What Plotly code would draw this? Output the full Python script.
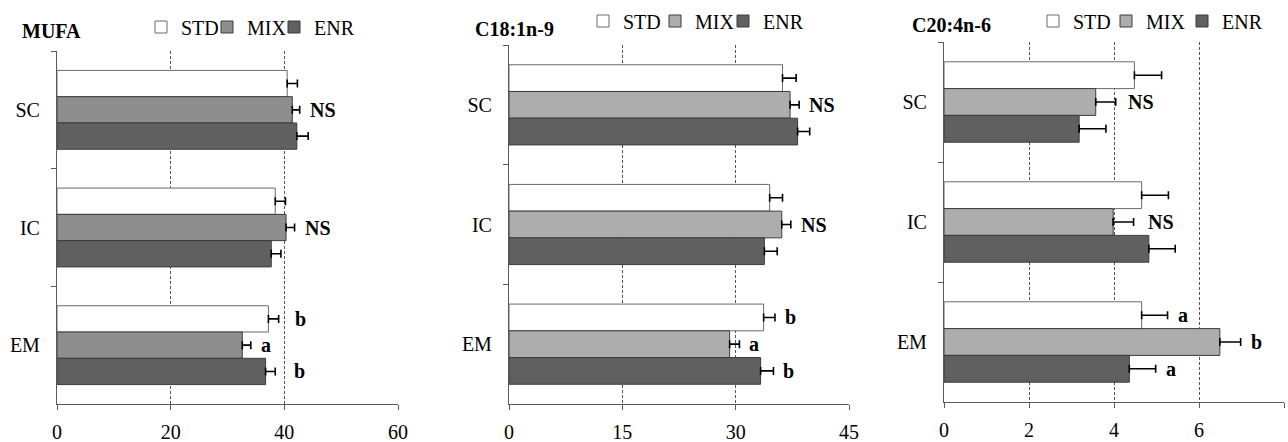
import plotly.graph_objects as go

# ---------------- data ----------------
categories = ["SC", "IC", "EM"]
series_names = ["STD", "MIX", "ENR"]
panel_titles = ["MUFA", "C18:1n-9", "C20:4n-6"]
x_ranges = [[0, 60], [0, 45], [0, 8]]
x_dticks = [20, 15, 2]

mufa_std = [40.5, 38.4, 37.2]
mufa_std_err = [1.8, 1.8, 1.8]
mufa_mix = [41.4, 40.3, 32.6]
mufa_mix_err = [1.3, 1.5, 1.5]
mufa_enr = [42.2, 37.7, 36.7]
mufa_enr_err = [2.0, 1.7, 1.7]

c18_std = [36.2, 34.5, 33.7]
c18_std_err = [1.8, 1.7, 1.5]
c18_mix = [37.2, 36.1, 29.2]
c18_mix_err = [1.2, 1.2, 1.3]
c18_enr = [38.2, 33.8, 33.3]
c18_enr_err = [1.6, 1.7, 1.7]

c20_std = [4.48, 4.65, 4.65]
c20_std_err = [0.64, 0.63, 0.61]
c20_mix = [3.57, 3.98, 6.49]
c20_mix_err = [0.47, 0.48, 0.49]
c20_enr = [3.18, 4.82, 4.36]
c20_enr_err = [0.63, 0.62, 0.62]

# significance letters: per panel -> per category -> per series ("" = none)
mufa_sig = {"SC": ["", "NS", ""], "IC": ["", "NS", ""], "EM": ["b", "a", "b"]}
c18_sig = {"SC": ["", "NS", ""], "IC": ["", "NS", ""], "EM": ["b", "a", "b"]}
c20_sig = {"SC": ["", "NS", ""], "IC": ["", "NS", ""], "EM": ["a", "b", "a"]}

panels = [
    ([mufa_std, mufa_mix, mufa_enr], [mufa_std_err, mufa_mix_err, mufa_enr_err], mufa_sig),
    ([c18_std, c18_mix, c18_enr], [c18_std_err, c18_mix_err, c18_enr_err], c18_sig),
    ([c20_std, c20_mix, c20_enr], [c20_std_err, c20_mix_err, c20_enr_err], c20_sig),
]

# ---------------- style ----------------
W, H = 1288, 442
FONT = "Liberation Serif"
fills = [
    ["#ffffff", "#8e8e8e", "#606060"],
    ["#ffffff", "#adadad", "#606060"],
    ["#ffffff", "#adadad", "#606060"],
]
outlines = ["#6a6a6a", "#3c3c3c", "#3c3c3c"]
AXIS_COLOR = "#5a5a5a"
x_dom_px = [(57, 398), (509, 849), (944, 1284)]
y_dom_px = [(51, 404), (45, 404), (42, 402)]
title_pos = [(20, 31), (473, 29), (910, 25)]
# left x of each legend text (px) and legend row centre y (px)
legend_text_x = [(185, 251, 318), (627, 699, 767), (1077, 1150, 1226)]
legend_y = [27, 21, 21]
TEXT_OFFSET = 44  # distance from legend left edge to its text start
BARGAP = 0.33
ann_shift = {(0, "EM", 0): 14, (0, "EM", 2): 17, (2, "IC", 1): 12, (2, "SC", 1): 10}

fig = go.Figure()
legend_layouts = {}
for p, (vals, errs, sig) in enumerate(panels):
    ax = "" if p == 0 else str(p + 1)
    for s in range(3):
        k = p * 3 + s
        leg = "legend" if k == 0 else f"legend{k + 1}"
        fig.add_trace(go.Bar(
            y=categories, x=vals[s], orientation="h", name=series_names[s],
            marker=dict(color=fills[p][s], line=dict(color=outlines[s], width=1)),
            error_x=dict(type="data", array=errs[s], symmetric=False,
                         arrayminus=[0, 0, 0], color="#000000", thickness=1.6, width=4),
            xaxis="x" + ax, yaxis="y" + ax, legend=leg,
        ))
        legend_layouts[leg] = dict(
            orientation="h", x=(legend_text_x[p][s] - TEXT_OFFSET) / W,
            y=1 - legend_y[p] / H, xanchor="left", yanchor="middle",
            xref="paper", yref="paper",
            font=dict(family=FONT, size=20, color="#000000"),
            bgcolor="rgba(0,0,0,0)", borderwidth=0, itemclick=False,
        )
    x0, x1 = x_dom_px[p]
    yt, yb = y_dom_px[p]
    fig.update_layout(**{
        "xaxis" + ax: dict(
            domain=[x0 / W, x1 / W], anchor="y" + ax, range=x_ranges[p], dtick=x_dticks[p],
            showline=True, linecolor=AXIS_COLOR, linewidth=1.2, ticks="outside", ticklen=5,
            tickcolor=AXIS_COLOR, tickwidth=1.2, showgrid=True, gridcolor="#555555",
            griddash="3px,2px", gridwidth=1, zeroline=False, ticklabelstandoff=5,
            automargin=False, tickfont=dict(family=FONT, size=20, color="#000000"),
        ),
        "yaxis" + ax: dict(
            domain=[1 - yb / H, 1 - yt / H], anchor="x" + ax, type="category",
            categoryorder="array", categoryarray=categories, autorange="reversed",
            showline=True, linecolor=AXIS_COLOR, linewidth=1.2, ticks="outside", ticklen=5,
            tickcolor=AXIS_COLOR, tickwidth=1.2, tickson="boundaries", showgrid=False,
            zeroline=False, ticklabelstandoff=12, automargin=False,
            tickfont=dict(family=FONT, size=20, color="#000000"),
        ),
    })
    # panel title
    fig.add_annotation(
        text="<b>" + panel_titles[p] + "</b>", xref="paper", yref="paper",
        x=title_pos[p][0] / W, y=1 - title_pos[p][1] / H, xanchor="left", yanchor="middle",
        showarrow=False, font=dict(family=FONT, size=20, color="#000000"),
    )
    # significance labels
    off = (1 - BARGAP) / 3
    for ci, cat in enumerate(categories):
        for s in range(3):
            lab = sig[cat][s]
            if not lab:
                continue
            fig.add_annotation(
                text="<b>" + lab + "</b>", xref="x" + ax, yref="y" + ax,
                x=vals[s][ci] + errs[s][ci], y=ci + (s - 1) * off,
                xanchor="left", yanchor="middle", showarrow=False,
                xshift=ann_shift.get((p, cat, s), 8),
                font=dict(family=FONT, size=20, color="#000000"),
            )

fig.update_layout(**legend_layouts)
fig.update_layout(
    width=W, height=H, margin=dict(l=0, r=0, t=0, b=0, autoexpand=False),
    barmode="group", bargap=BARGAP, bargroupgap=0,
    paper_bgcolor="#ffffff", plot_bgcolor="#ffffff",
    showlegend=True, font=dict(family=FONT),
)
fig.write_html(
    "out.html",
    config={"displayModeBar": False},
    post_script="document.body.style.margin='0';document.body.style.overflow='hidden';",
)
